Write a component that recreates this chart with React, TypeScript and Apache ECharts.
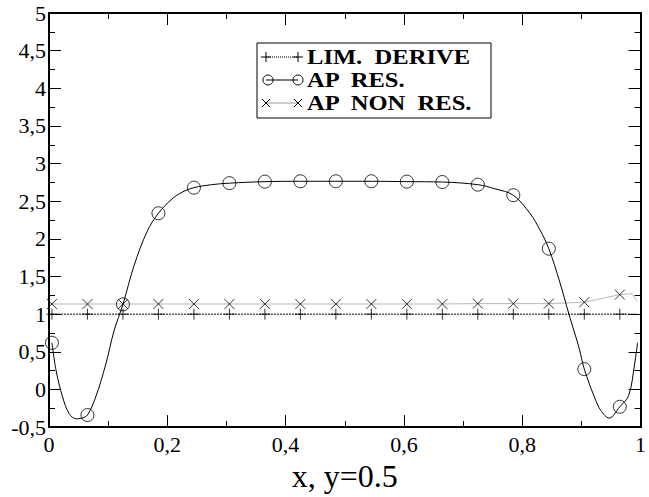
import React, { useEffect, useRef } from "react";
import * as echarts from "echarts";

// marker positions (cell centres)
const markerX = [0.005, 0.065, 0.125, 0.185, 0.245, 0.305, 0.365, 0.425, 0.485, 0.545, 0.605, 0.665, 0.725, 0.785, 0.845, 0.905, 0.965];
const limMarks = [1, 1, 1, 1, 1, 1, 1, 1, 1, 1, 1, 1, 1, 1, 1, 1, 1];
const apResMarks = [0.62, -0.34, 1.13, 2.34, 2.68, 2.74, 2.76, 2.765, 2.765, 2.765, 2.76, 2.755, 2.72, 2.58, 1.87, 0.27, -0.23];
const apNonResMarks = [1.135, 1.135, 1.135, 1.135, 1.135, 1.135, 1.135, 1.135, 1.135, 1.135, 1.135, 1.135, 1.14, 1.14, 1.14, 1.158, 1.26];

// continuous lines
const limLineX = [0.005, 0.995];
const limLineY = [1, 1];
const apResLineX = [0.005, 0.012, 0.023, 0.034, 0.046, 0.056, 0.065, 0.079, 0.096, 0.11, 0.125, 0.144, 0.166, 0.185, 0.208, 0.225, 0.245, 0.275, 0.305, 0.365, 0.425, 0.485, 0.545, 0.605, 0.665, 0.725, 0.754, 0.785, 0.813, 0.83, 0.845, 0.863, 0.879, 0.896, 0.905, 0.922, 0.933, 0.947, 0.965, 0.98, 0.99, 0.995];
const apResLineY = [0.62, 0.25, -0.1, -0.32, -0.39, -0.38, -0.34, -0.1, 0.335, 0.78, 1.13, 1.65, 2.1, 2.34, 2.53, 2.62, 2.68, 2.72, 2.74, 2.76, 2.765, 2.765, 2.765, 2.76, 2.755, 2.72, 2.665, 2.58, 2.34, 2.12, 1.87, 1.44, 1.0, 0.555, 0.27, -0.1, -0.28, -0.38, -0.23, -0.08, 0.335, 0.62];
const apNonResLineX = [0.005, 0.065, 0.125, 0.185, 0.245, 0.305, 0.365, 0.425, 0.485, 0.545, 0.605, 0.665, 0.725, 0.785, 0.845, 0.905, 0.965, 0.985, 0.995];
const apNonResLineY = [1.135, 1.135, 1.135, 1.135, 1.135, 1.135, 1.135, 1.135, 1.135, 1.135, 1.135, 1.135, 1.14, 1.14, 1.14, 1.158, 1.26, 1.27, 1.17];

const legendNames = ["LIM.  DERIVE", "AP  RES.", "AP  NON  RES."];

const FONT = "'Liberation Serif', 'Times New Roman', serif";
const zip = (xs: number[], ys: number[]) => xs.map((x, i) => [x, ys[i]]);
const fmt = (v: number) => String(Math.round(v * 10) / 10).replace(".", ",");

const PLUS = "path://M5,0L5,10M0,5L10,5";
const CROSS = "path://M0,0L10,10M10,0L0,10";

export default function App() {
  const ref = useRef<HTMLDivElement>(null);
  useEffect(() => {
    if (!ref.current) return;
    const chart = echarts.init(ref.current, null, { renderer: "svg" });
    const axisCommon = {
      axisLine: { show: true, onZero: false, lineStyle: { color: "#000", width: 2 } },
      axisTick: { show: true, inside: true, length: 12, lineStyle: { color: "#000", width: 1 } },
      minorTick: { show: true, splitNumber: 2, length: 6, lineStyle: { color: "#000", width: 1 } },
      splitLine: { show: false },
      minorSplitLine: { show: false },
    };
    const strokeStyle = { color: "transparent", borderColor: "#000", borderWidth: 1 };
    const ly = [57, 80, 103];
    const lx0 = 266, lx1 = 298;
    chart.setOption({
      animation: false,
      backgroundColor: "#fff",
      grid: { left: 49, right: 5, top: 13, bottom: 67 },
      xAxis: [
        {
          type: "value", min: 0, max: 1, interval: 0.2, position: "bottom",
          ...axisCommon,
          axisLabel: { show: true, color: "#000", fontFamily: FONT, fontSize: 22, margin: 6, formatter: fmt, showMinLabel: true, showMaxLabel: true },
          name: "x, y=0.5", nameLocation: "middle", nameGap: 27,
          nameTextStyle: { color: "#000", fontFamily: FONT, fontSize: 32 },
        },
        {
          type: "value", min: 0, max: 1, interval: 0.2, position: "top",
          ...axisCommon, axisLabel: { show: false },
        },
      ],
      yAxis: [
        {
          type: "value", min: -0.5, max: 5, interval: 0.5, position: "left",
          ...axisCommon,
          axisLabel: { show: true, color: "#000", fontFamily: FONT, fontSize: 22, margin: 3, formatter: fmt, showMinLabel: true, showMaxLabel: true },
        },
        {
          type: "value", min: -0.5, max: 5, interval: 0.5, position: "right",
          ...axisCommon, axisLabel: { show: false },
        },
      ],
      series: [
        {
          type: "line", data: zip(limLineX, limLineY), showSymbol: false, symbol: "none",
          lineStyle: { color: "#000", width: 1, type: [2, 1] }, z: 2,
        },
        {
          type: "line", data: zip(apNonResLineX, apNonResLineY), showSymbol: false, symbol: "none",
          lineStyle: { color: "#b8b8b8", width: 1 }, z: 2,
        },
        {
          type: "line", data: zip(apResLineX, apResLineY), showSymbol: false, symbol: "none", smooth: 0.35,
          lineStyle: { color: "#000", width: 1 }, z: 3,
        },
        {
          type: "scatter", data: zip(markerX, limMarks), symbol: PLUS, symbolSize: 11,
          itemStyle: strokeStyle, z: 4,
        },
        {
          type: "scatter", data: zip(markerX, apNonResMarks), symbol: CROSS, symbolSize: 10,
          itemStyle: strokeStyle, z: 4,
        },
        {
          type: "scatter", data: zip(markerX, apResMarks), symbol: "circle", symbolSize: 13,
          itemStyle: strokeStyle, z: 4,
        },
      ],
      graphic: [
        {
          type: "rect", shape: { x: 257, y: 43, width: 234, height: 75 },
          style: { fill: "#fff", stroke: "#000", lineWidth: 1 }, z: 10,
        },
        // row 1
        { type: "line", shape: { x1: lx0, y1: ly[0], x2: lx1, y2: ly[0] }, style: { stroke: "#000", lineWidth: 1, lineDash: [1, 1] }, z: 11 },
        { type: "line", shape: { x1: lx0 - 5, y1: ly[0], x2: lx0 + 5, y2: ly[0] }, style: { stroke: "#000", lineWidth: 1 }, z: 11 },
        { type: "line", shape: { x1: lx0, y1: ly[0] - 5, x2: lx0, y2: ly[0] + 5 }, style: { stroke: "#000", lineWidth: 1 }, z: 11 },
        { type: "line", shape: { x1: lx1 - 5, y1: ly[0], x2: lx1 + 5, y2: ly[0] }, style: { stroke: "#000", lineWidth: 1 }, z: 11 },
        { type: "line", shape: { x1: lx1, y1: ly[0] - 5, x2: lx1, y2: ly[0] + 5 }, style: { stroke: "#000", lineWidth: 1 }, z: 11 },
        // row 2
        { type: "line", shape: { x1: lx0, y1: ly[1], x2: lx1, y2: ly[1] }, style: { stroke: "#000", lineWidth: 1 }, z: 11 },
        { type: "circle", shape: { cx: lx0 + 2, cy: ly[1], r: 5 }, style: { fill: "none", stroke: "#000", lineWidth: 1 }, z: 11 },
        { type: "circle", shape: { cx: lx1, cy: ly[1], r: 5 }, style: { fill: "none", stroke: "#000", lineWidth: 1 }, z: 11 },
        // row 3
        { type: "line", shape: { x1: lx0, y1: ly[2], x2: lx1, y2: ly[2] }, style: { stroke: "#999", lineWidth: 1 }, z: 11 },
        { type: "line", shape: { x1: lx0 - 4, y1: ly[2] - 4, x2: lx0 + 4, y2: ly[2] + 4 }, style: { stroke: "#000", lineWidth: 1 }, z: 11 },
        { type: "line", shape: { x1: lx0 - 4, y1: ly[2] + 4, x2: lx0 + 4, y2: ly[2] - 4 }, style: { stroke: "#000", lineWidth: 1 }, z: 11 },
        { type: "line", shape: { x1: lx1 - 4, y1: ly[2] - 4, x2: lx1 + 4, y2: ly[2] + 4 }, style: { stroke: "#000", lineWidth: 1 }, z: 11 },
        { type: "line", shape: { x1: lx1 - 4, y1: ly[2] + 4, x2: lx1 + 4, y2: ly[2] - 4 }, style: { stroke: "#000", lineWidth: 1 }, z: 11 },
        ...legendNames.map((t, i) => ({
          type: "text", x: 307, y: ly[i], scaleX: 1.17, z: 11,
          style: { text: t, fill: "#000", font: `bold 21px ${FONT}`, textVerticalAlign: "middle", verticalAlign: "middle" },
        })),
      ],
    });
    return () => chart.dispose();
  }, []);
  return <div ref={ref} style={{ width: 649, height: 497, position: "absolute", left: 0, top: 0 }} />;
}
